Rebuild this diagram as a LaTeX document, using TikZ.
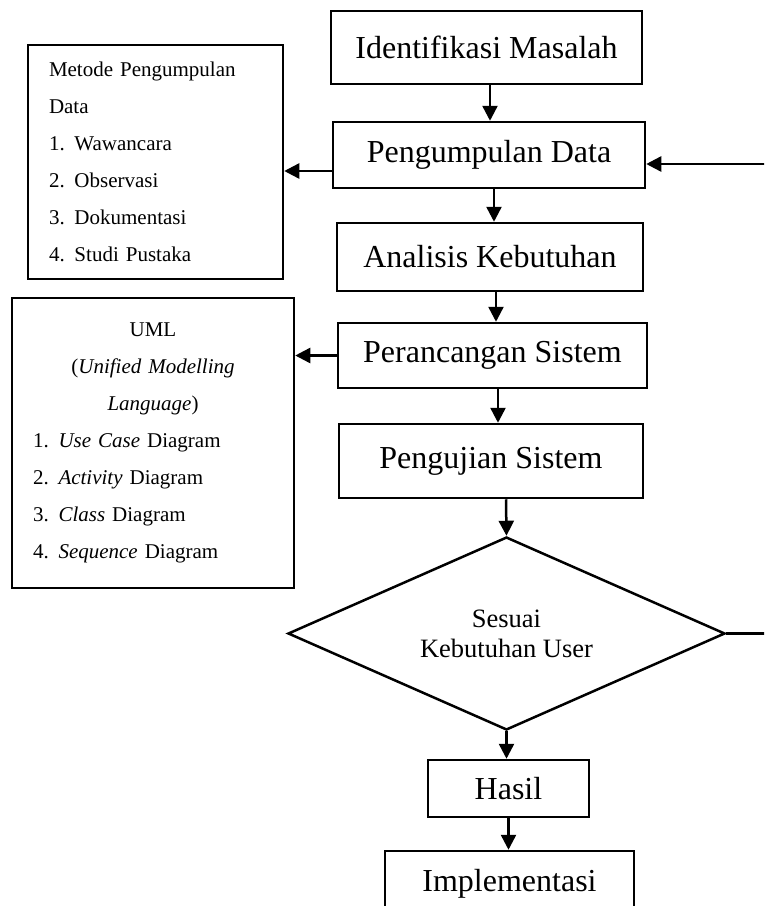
\documentclass[tikz,border=0pt]{standalone}
\usepackage{fontspec}
\setmainfont{Liberation Serif}
\usetikzlibrary{shapes.geometric,arrows.meta}

\newcommand{\listitem}[2]{\makebox[25.5pt][l]{#1}#2}

\begin{document}
\begin{tikzpicture}[
  x=1pt, y=-1pt,
  line width=2.5pt,
  every node/.style = {draw, line width=2.5pt, inner sep=0pt},
  stepbox/.style = {rectangle, font=\fontsize{32}{38}\selectfont},
  notebox/.style = {rectangle, font=\fontsize{21}{37}\selectfont, inner xsep=21pt},
  decision/.style = {diamond, shape aspect=2.26, align=center, font=\fontsize{26.5}{30}\selectfont},
  arrow/.style = {-{Triangle[length=15pt,width=15pt]}}
  ]
  \clip (0,0) rectangle (764,906);

  % main flow
  \node[stepbox, minimum width=311pt, minimum height=73pt] (ident) at (486.5,47.5) {Identifikasi Masalah};
  \node[stepbox, minimum width=312pt, minimum height=66pt] (kumpul) at (489,155) {Pengumpulan Data};
  \node[stepbox, minimum width=306pt, minimum height=68pt] (analisis) at (490,257) {Analisis Kebutuhan};
  \node[stepbox, minimum width=309pt, minimum height=65pt] (rancang) at (492.5,355.5) {Perancangan Sistem};
  \node[stepbox, minimum width=304pt, minimum height=74pt] (uji) at (491,461) {Pengujian Sistem};
  \node[decision, minimum width=437pt, minimum height=193pt] (dec) at (506.5,633.5) {Sesuai\\Kebutuhan User};
  \node[stepbox, minimum width=161pt, minimum height=57pt] (hasil) at (508.5,788.5) {Hasil};
  \node[stepbox, minimum width=249pt, minimum height=66pt] (impl) at (509.5,884) {Implementasi};

  % side notes
  \node[notebox, text width=213pt, align=left, minimum height=234pt] (metode) at (155.5,162) {%
    Metode Pengumpulan\\
    Data\\
    \listitem{1.}{Wawancara}\\
    \listitem{2.}{Observasi}\\
    \listitem{3.}{Dokumentasi}\\
    \listitem{4.}{Studi Pustaka}};
  \node[notebox, text width=240pt, align=center, minimum height=290pt] (uml) at (153,443) {%
    UML\\
    (\textit{Unified Modelling}\\
    \textit{Language})\\
    \makebox[240pt][l]{\listitem{1.}{\textit{Use Case} Diagram}}\\
    \makebox[240pt][l]{\listitem{2.}{\textit{Activity} Diagram}}\\
    \makebox[240pt][l]{\listitem{3.}{\textit{Class} Diagram}}\\
    \makebox[240pt][l]{\listitem{4.}{\textit{Sequence} Diagram}}};

  % connectors
  \draw[arrow] ([xshift=3.5pt]ident.south) -- ([xshift=1pt]kumpul.north);
  \draw[arrow] ([xshift=5pt]kumpul.south) -- ([xshift=4pt]analisis.north);
  \draw[arrow] ([xshift=6pt]analisis.south) -- ([xshift=3.5pt]rancang.north);
  \draw[arrow] ([xshift=5.5pt]rancang.south) -- ([xshift=7pt]uji.north);
  \draw[arrow] ([xshift=15pt]uji.south) -- (dec.north);
  \draw[arrow] (dec.south) -- (dec.south |- hasil.north);
  \draw[arrow] (hasil.south) -- (hasil.south |- impl.north);

  \coordinate (outL) at ([yshift=-16pt]kumpul.west);
  \draw[arrow] (outL) -- (outL -| metode.east);
  \draw[arrow] (rancang.west) -- (rancang.west -| uml.east);

  % back to data collection
  \coordinate (inR) at ([yshift=-9pt]kumpul.east);
  \coordinate (back) at (785,633.5);
  \draw[arrow] (dec.east) -- (back) -- (back |- inR) -- (inR);
\end{tikzpicture}
\end{document}
